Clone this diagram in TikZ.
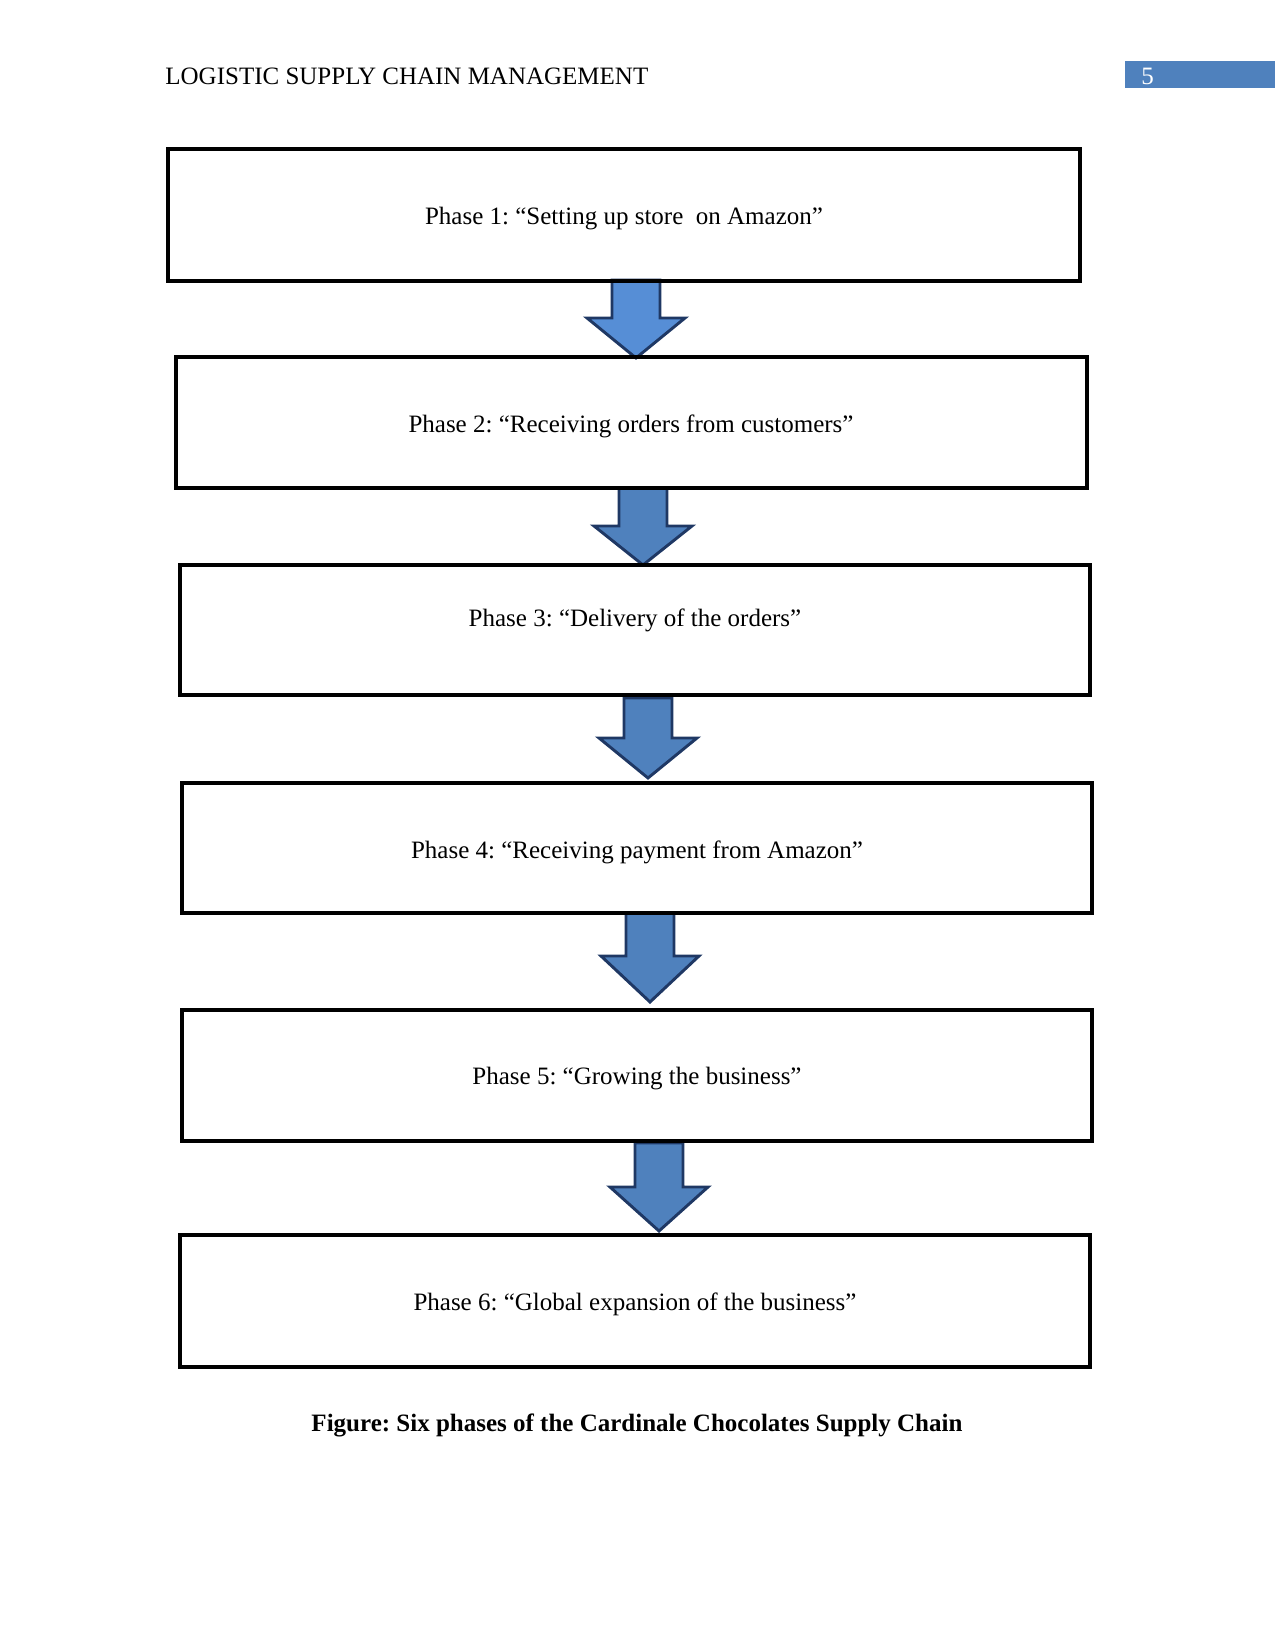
\documentclass[tikz,border=0pt]{standalone}
\usepackage{fontspec}
\setmainfont{Liberation Serif}
\frenchspacing
\definecolor{arrowfill}{RGB}{79,129,189}
\definecolor{arrowfillA}{RGB}{86,142,214}
\definecolor{arrowline}{RGB}{31,56,100}
\definecolor{hdrblue}{RGB}{79,129,189}
\tikzset{
  phasebox/.style={draw=black, line width=1.9pt, inner sep=0pt},
  phasetext/.style={font=\fontsize{12}{14}\selectfont, inner sep=0pt},
  blockarr/.style={draw=arrowline, line width=1.4pt, line join=miter, fill=arrowfill},
}
% cx, top, headstart, tip
\newcommand\myblockarrow[5][]{%
  \draw[blockarr,#1] (#2-24,#3) -- (#2+24,#3) -- (#2+24,#4) -- (#2+49,#4) -- (#2,#5)
    -- (#2-49,#4) -- (#2-24,#4) -- cycle;}
\begin{document}
\frenchspacing
\begin{tikzpicture}[x=0.48pt,y=-0.48pt]
\useasboundingbox (0,0) rectangle (1275,1650);
% header
\node[anchor=west, phasetext] (hdr) at (165,76) {LOGISTIC SUPPLY CHAIN MANAGEMENT};
\fill[hdrblue] (1125,61) rectangle (1275,88);
\node[anchor=west, phasetext, text=white] (pg) at (1141,76) {5};
% arrows
\myblockarrow[fill=arrowfillA]{636}{280}{318}{358}
\myblockarrow{643}{488}{526}{565}
\myblockarrow{648}{698}{738}{778}
\myblockarrow{650}{913}{956}{1002}
\myblockarrow{659}{1143}{1187}{1231}
% boxes
\draw[phasebox] (168,149) rectangle (1080,281);
\draw[phasebox] (176,357) rectangle (1087,488);
\draw[phasebox] (180,565) rectangle (1090,695);
\draw[phasebox] (182,783) rectangle (1092,913);
\draw[phasebox] (182,1010) rectangle (1092,1141);
\draw[phasebox] (180,1235) rectangle (1090,1367);
% texts
\node[phasetext] (t1) at (624,219) {Phase 1: “Setting up store\ \ on Amazon”};
\node[phasetext] (t2) at (631,426) {Phase 2: “Receiving orders from customers”};
\node[phasetext] (t3) at (635,620) {Phase 3: “Delivery of the orders”};
\node[phasetext] (t4) at (637,852) {Phase 4: “Receiving payment from Amazon”};
\node[phasetext] (t5) at (637,1079) {Phase 5: “Growing the business”};
\node[phasetext] (t6) at (635,1304) {Phase 6: “Global expansion of the business”};
% caption
\node[phasetext, font=\fontsize{12}{14}\selectfont\bfseries] (cap) at (637,1425) {Figure: Six phases of the Cardinale Chocolates Supply Chain};
\end{tikzpicture}
\end{document}
